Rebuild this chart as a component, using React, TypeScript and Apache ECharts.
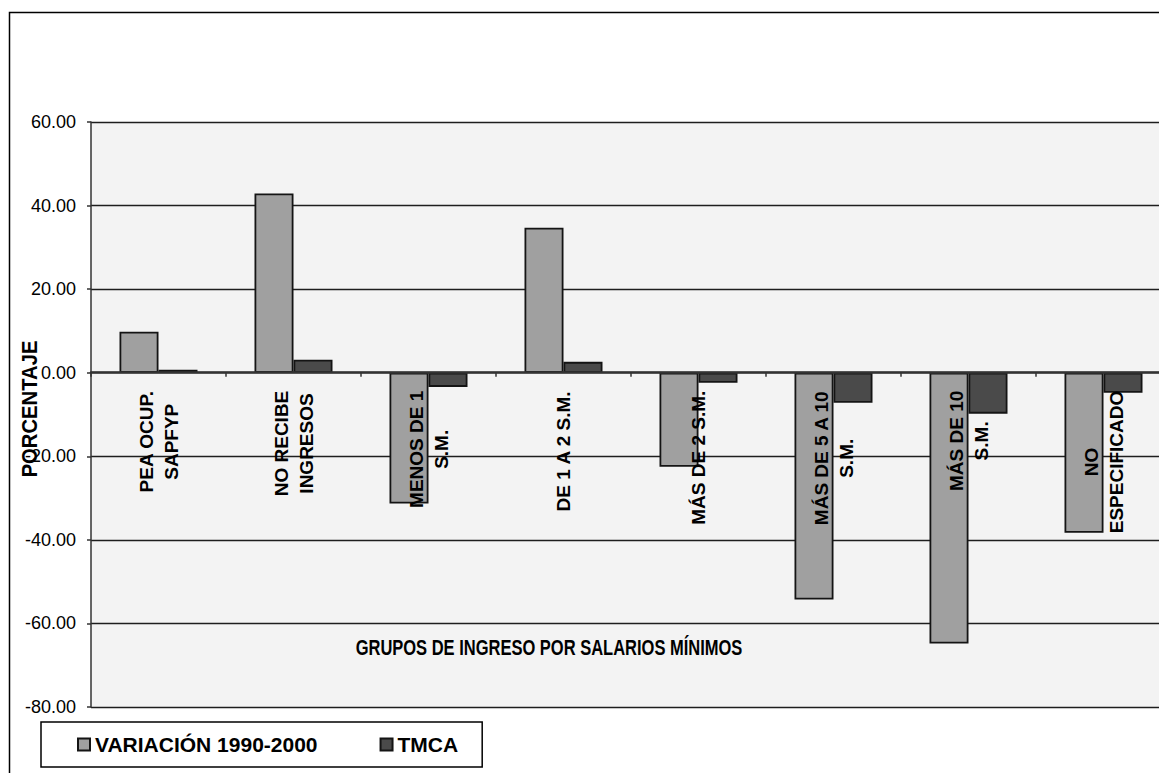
import React, { useEffect, useRef } from 'react';
import * as echarts from 'echarts';

const categories = [
  'PEA OCUP.\nSAPFYP',
  'NO RECIBE\nINGRESOS',
  'MENOS DE 1\nS.M.',
  'DE 1 A 2 S.M.',
  'MÁS DE 2 S.M.',
  'MÁS DE 5 A 10\nS.M.',
  'MÁS DE 10\nS.M.',
  'NO\nESPECIFICADO',
];
const variacion = [9.8, 42.9, -31.3, 34.7, -22.5, -54.3, -64.8, -38.3];
const tmca = [0.7, 3.1, -3.4, 2.6, -2.4, -7.2, -9.8, -4.8];
const seriesNames = ['VARIACIÓN 1990-2000', 'TMCA'];
const yTitle = 'PORCENTAJE';
const xTitle = 'GRUPOS DE INGRESO POR SALARIOS MÍNIMOS';
const Y_MIN = -80;
const Y_MAX = 60;
const Y_STEP = 20;

const ARIAL = "'Liberation Sans', Arial, sans-serif";

const GRID_TOP = 122;
const GRID_BOTTOM = 66;
const CHART_H = 773;

export default function App() {
  const ref = useRef<HTMLDivElement>(null);
  useEffect(() => {
    if (!ref.current) return;
    const chart = echarts.init(ref.current, undefined, { renderer: 'svg' });
    const gridH = CHART_H - GRID_TOP - GRID_BOTTOM;
    const zeroOffset = -(gridH * (0 - Y_MIN)) / (Y_MAX - Y_MIN);
    chart.setOption({
      animation: false,
      backgroundColor: '#ffffff',
      grid: {
        left: 91,
        right: -12,
        top: GRID_TOP,
        bottom: GRID_BOTTOM,
        containLabel: false,
        outerBoundsMode: 'none',
        show: true,
        backgroundColor: '#f3f3f3',
        borderWidth: 0,
      },
      legend: {
        left: 41,
        top: 722,
        data: seriesNames,
        icon: 'rect',
        backgroundColor: '#ffffff',
        borderColor: '#000000',
        borderWidth: 1.5,
        borderRadius: 0,
        padding: [12, 24, 12, 36],
        itemWidth: 12,
        itemHeight: 12,
        itemGap: 62,
        itemTextGap: 5,
        textStyle: {
          fontFamily: ARIAL,
          fontWeight: 'bold',
          fontSize: 21,
          color: '#000',
        },
      },
      xAxis: {
        type: 'category',
        data: categories,
        z: 5,
        position: 'bottom',
        offset: zeroOffset,
        axisLine: { onZero: false, lineStyle: { color: '#333', width: 2.5 } },
        axisTick: { show: true, length: 4, lineStyle: { color: '#333', width: 1.5 } },
        axisLabel: {
          rotate: 90,
          margin: 18,
          interval: 0,
          color: '#000',
          formatter: (v: string) => v.split('\n').map((l) => `{c|${l}}`).join('\n'),
          rich: {
            c: {
              align: 'center',
              fontFamily: ARIAL,
              fontWeight: 'bold',
              fontSize: 19,
              lineHeight: 25,
              color: '#000',
            },
          },
        },
      },
      yAxis: {
        type: 'value',
        min: Y_MIN,
        max: Y_MAX,
        interval: Y_STEP,
        z: 0,
        axisLine: { show: true, lineStyle: { color: '#333', width: 1.5 } },
        axisTick: { show: true, length: 4, lineStyle: { color: '#333', width: 1.5 } },
        splitLine: { show: true, lineStyle: { color: '#1e1e1e', width: 1.4 } },
        axisLabel: {
          margin: 15,
          color: '#000',
          fontFamily: ARIAL,
          fontSize: 18,
          formatter: (v: number) => v.toFixed(2),
        },
      },
      series: [
        {
          name: seriesNames[0],
          type: 'bar',
          data: variacion,
          barWidth: 39,
          barGap: '0%',
          z: 2,
          itemStyle: { color: '#a0a0a0', borderColor: '#141414', borderWidth: 1.8 },
        },
        {
          name: seriesNames[1],
          type: 'bar',
          data: tmca,
          barWidth: 39,
          barGap: '0%',
          z: 2,
          itemStyle: { color: '#4a4a4a', borderColor: '#141414', borderWidth: 1.8 },
        },
      ],
      graphic: [
        {
          type: 'polyline',
          z: 100,
          silent: true,
          shape: { points: [[9.5, 773], [9.5, 12.5], [1159, 12.5]] },
          style: { stroke: '#000', lineWidth: 1.5, fill: null },
        },
        {
          type: 'text',
          z: 100,
          x: 29,
          y: 409,
          rotation: Math.PI / 2,
          scaleX: 0.92,
          style: {
            text: yTitle,
            fontFamily: ARIAL,
            fontWeight: 'bold',
            fontSize: 22,
            fill: '#000',
            align: 'center',
            verticalAlign: 'middle',
          },
        },
        {
          type: 'text',
          z: 100,
          x: 549,
          y: 647,
          scaleX: 0.75,
          style: {
            text: xTitle,
            fontFamily: ARIAL,
            fontWeight: 'bold',
            fontSize: 22,
            fill: '#000',
            align: 'center',
            verticalAlign: 'middle',
          },
        },
      ],
    });
    return () => chart.dispose();
  }, []);
  return (
    <div
      ref={ref}
      style={{ position: 'absolute', left: 0, top: 0, width: 1159, height: 773 }}
    />
  );
}
